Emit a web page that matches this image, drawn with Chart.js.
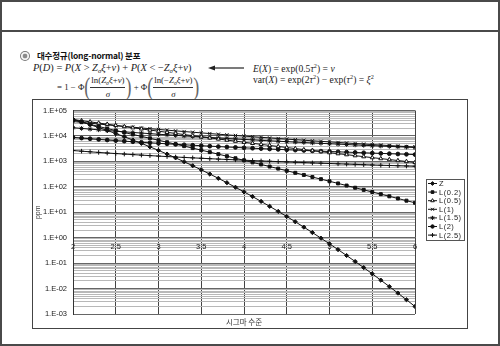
<!DOCTYPE html>
<html>
<head>
<meta charset="utf-8">
<script src="https://cdn.jsdelivr.net/npm/chart.js@4.4.1/dist/chart.umd.min.js"></script>
<style>
  html, body { margin: 0; padding: 0; background: #fff; }
  body { width: 500px; height: 346px; position: relative; overflow: hidden; font-family: "Liberation Sans", Arial, sans-serif; }
  #frame { position: absolute; left: 0; top: 0; width: 496px; height: 342px; border: 2px solid #4a4a4a; }
  #band { position: absolute; left: 0; top: 30px; width: 500px; height: 2px; background: #4a4a4a; }
  #bullet { position: absolute; left: 20px; top: 51px; width: 10px; height: 10px; border-radius: 50%;
            background: radial-gradient(circle, #8a8a8a 0 28%, #f2f2f2 38% 52%, #7a7a7a 64% 100%); }
  #head { position: absolute; left: 37px; top: 49px; font: bold 8.5px "Noto Sans CJK KR", sans-serif; color: #111; letter-spacing: -0.2px; }
  .m { position: absolute; font-family: "Liberation Serif", "Times New Roman", serif; font-style: italic; color: #222; white-space: nowrap; }
  .m sub { font-size: 65%; vertical-align: -2px; }
  .m sup { font-size: 65%; vertical-align: 4px; }
  .r { font-style: normal; }
  #f1 { left: 33px; top: 62px; font-size: 10.4px; letter-spacing: 0; }
  #f2 { left: 57px; top: 74px; height: 26px; font-size: 8.8px; display: flex; align-items: center; }
  .bp { font-style: normal; font-size: 18px; display: inline-block; transform: scaleY(1.4); color: #666; margin: 0; }
  .fr { display: inline-flex; flex-direction: column; align-items: center; }
  .nu { border-bottom: 1px solid #333; padding: 0 1px 1px; }
  .de { padding-top: 1px; }
  #f3 { left: 253px; top: 62px; font-size: 9.6px; }
  #f4 { left: 253px; top: 73px; font-size: 9.6px; }
  #arrow { position: absolute; left: 208px; top: 64px; }
  #box { position: absolute; left: 32px; top: 99px; width: 434px; height: 228px; border: 1px solid #444; background: #fff; }
  #box canvas { display: block; }
</style>
</head>
<body>
<div id="frame"></div>
<div id="band"></div>
<div id="bullet"></div>
<div id="head">대수정규(long-normal) 분포</div>
<div id="f1" class="m">P<span class="r">(</span>D<span class="r">) = </span>P<span class="r">(</span>X<span class="r"> &gt; </span>Z<sub>σ</sub>ξ<span class="r">+</span>ν<span class="r">) + </span>P<span class="r">(</span>X<span class="r"> &lt; −</span>Z<sub>σ</sub>ξ<span class="r">+</span>ν<span class="r">)</span></div>
<div id="f2" class="m">
  <span class="r">= 1 − Φ</span><span class="bp">(</span><span class="fr"><span class="nu"><span class="r">ln(</span>Z<sub>σ</sub>ξ<span class="r">+</span>ν<span class="r">)</span></span><span class="de">σ</span></span><span class="bp">)</span>
  <span class="r">&nbsp;+ Φ</span><span class="bp">(</span><span class="fr"><span class="nu"><span class="r">ln(−</span>Z<sub>σ</sub>ξ<span class="r">+</span>ν<span class="r">)</span></span><span class="de">σ</span></span><span class="bp">)</span>
</div>
<svg id="arrow" width="38" height="8"><line x1="4" y1="4" x2="36" y2="4" stroke="#222" stroke-width="1.2"/><path d="M0,4 L7,1.5 L7,6.5 Z" fill="#222"/></svg>
<div id="f3" class="m">E<span class="r">(</span>X<span class="r">) = exp(0.5</span>τ<sup class="r">2</sup><span class="r">) = </span>ν</div>
<div id="f4" class="m"><span class="r">var(</span>X<span class="r">) = exp(2</span>τ<sup class="r">2</sup><span class="r">) − exp(</span>τ<sup class="r">2</sup><span class="r">) = </span>ξ<sup class="r">2</sup></div>
<div id="box"><canvas id="chart" width="434" height="228"></canvas></div>

<script>
// sigma level (x) and defect rate in ppm (y) for each curve
const sigmaLevels = [2.0, 2.1, 2.2, 2.3, 2.4, 2.5, 2.6, 2.7, 2.8, 2.9,
  3.0, 3.1, 3.2, 3.3, 3.4, 3.5, 3.6, 3.7, 3.8, 3.9,
  4.0, 4.1, 4.2, 4.3, 4.4, 4.5, 4.6, 4.7, 4.8, 4.9,
  5.0, 5.1, 5.2, 5.3, 5.4, 5.5, 5.6, 5.7, 5.8, 5.9, 6.0];

const zPpm = [45500, 35720, 27800, 21440, 16400, 12420, 9322, 6934, 5110, 3732,
  2700, 1935, 1374, 967, 674, 465, 318, 216, 145, 96.2,
  63.3, 41.3, 26.7, 17.1, 10.8, 6.80, 4.22, 2.60, 1.59, 0.958,
  0.573, 0.340, 0.199, 0.116, 0.0666, 0.0380, 0.0214, 0.0120, 0.00663, 0.00364, 0.00197];

const l02Ppm = [42600, 34740, 28510, 23570, 19550, 16320, 13660, 11450, 9616, 8078,
  6774, 5676, 4754, 3972, 3319, 2767, 2306, 1921, 1596, 1327,
  1101, 913, 757, 627, 519, 429, 355, 293, 242, 200,
  165, 136, 112, 92.1, 75.9, 62.5, 51.4, 42.3, 34.8, 28.6, 23.5];

const l05Ppm = [44460, 39850, 35790, 32110, 28880, 25940, 23340, 21000, 18910, 17040,
  15370, 13880, 12520, 11310, 10220, 9244, 8374, 7576, 6865, 6230,
  5649, 5126, 4660, 4231, 3847, 3503, 3187, 2903, 2647, 2414,
  2202, 2011, 1837, 1678, 1534, 1404, 1285, 1177, 1078, 989, 907];

const l1Ppm = [36950, 34180, 31640, 29370, 27280, 25370, 23640, 22060, 20590, 19260,
  18040, 16900, 15850, 14890, 14010, 13180, 12410, 11690, 11040, 10430,
  9851, 9318, 8823, 8361, 7925, 7515, 7130, 6774, 6442, 6129,
  5829, 5548, 5284, 5038, 4806, 4587, 4377, 4180, 3994, 3820, 3656];

const l15Ppm = [21130, 19750, 18510, 17380, 16330, 15390, 14520, 13730, 12980, 12300,
  11660, 11080, 10540, 10030, 9557, 9117, 8709, 8326, 7962, 7618,
  7297, 6996, 6713, 6448, 6197, 5955, 5726, 5511, 5309, 5117,
  4935, 4763, 4597, 4438, 4287, 4144, 4008, 3878, 3755, 3637, 3524];

const l2Ppm = [8768, 8246, 7760, 7322, 6925, 6564, 6232, 5920, 5632, 5369,
  5125, 4899, 4690, 4490, 4304, 4129, 3967, 3815, 3673, 3539,
  3411, 3289, 3174, 3065, 2963, 2866, 2774, 2687, 2604, 2525,
  2448, 2375, 2305, 2239, 2176, 2116, 2058, 2003, 1950, 1900, 1851];

const l25Ppm = [2669, 2518, 2377, 2250, 2135, 2030, 1934, 1845, 1762, 1685,
  1613, 1548, 1486, 1429, 1375, 1324, 1276, 1231, 1189, 1149,
  1111, 1075, 1041, 1010, 980, 951, 923, 896, 871, 847,
  824, 802, 781, 761, 742, 724, 706, 690, 673, 657, 642];

const seriesNames = ['Z', 'L(0.2)', 'L(0.5)', 'L(1)', 'L(1.5)', 'L(2)', 'L(2.5)'];

const xTickValues = [2, 2.5, 3, 3.5, 4, 4.5, 5, 5.5, 6];
const xTickLabels = ['2', '2.5', '3', '3.5', '4', '4.5', '5', '5.5', '6'];
const yTickValues = [0.001, 0.01, 0.1, 1, 10, 100, 1000, 10000, 100000];
const yTickLabels = ['1.E-03', '1.E-02', '1.E-01', '1.E+00', '1.E+01', '1.E+02', '1.E+03', '1.E+04', '1.E+05'];

// marker look per curve (black & white print style)
const markers = [
  { style: 'rectRot', r: 2.1, fill: '#111' },
  { style: 'rect', r: 2.1, fill: '#111' },
  { style: 'triangle', r: 2.3, fill: '#fff' },
  { style: 'crossRot', r: 2.3, fill: '#111' },
  { style: 'star', r: 2.3, fill: '#111' },
  { style: 'circle', r: 1.9, fill: '#111' },
  { style: 'cross', r: 2.3, fill: '#111' }
];

const allSeries = [zPpm, l02Ppm, l05Ppm, l1Ppm, l15Ppm, l2Ppm, l25Ppm];

const datasets = allSeries.map((vals, k) => ({
  label: seriesNames[k],
  data: sigmaLevels.map((s, i) => ({ x: s, y: vals[i] })),
  borderColor: '#111',
  borderWidth: 1,
  backgroundColor: markers[k].fill,
  pointStyle: markers[k].style,
  pointRadius: markers[k].r,
  pointBorderWidth: 1,
  pointBorderColor: '#111',
  pointBackgroundColor: markers[k].fill,
  tension: 0
}));

// boxed legend with line + marker samples
const boxedLegend = {
  id: 'boxedLegend',
  afterDraw(chart) {
    const ctx = chart.ctx;
    const a = chart.chartArea;
    const x0 = a.right + 11, y0 = 79, w = 38, h = 61;
    ctx.save();
    ctx.strokeStyle = '#555';
    ctx.lineWidth = 1;
    ctx.strokeRect(x0 + 0.5, y0 + 0.5, w, h);
    ctx.font = '7.5px "Liberation Sans", Arial, sans-serif';
    ctx.textBaseline = 'middle';
    if ('letterSpacing' in ctx) ctx.letterSpacing = '0.5px';
    const drawPoint = Chart.helpers && Chart.helpers.drawPoint;
    seriesNames.forEach((name, i) => {
      const y = y0 + 4.5 + i * 8.6;
      ctx.strokeStyle = '#111';
      ctx.beginPath();
      ctx.moveTo(x0 + 2, y);
      ctx.lineTo(x0 + 11, y);
      ctx.stroke();
      ctx.fillStyle = markers[i].fill;
      if (drawPoint) {
        drawPoint(ctx, { pointStyle: markers[i].style, radius: markers[i].r * 0.9, borderWidth: 1, rotation: 0 }, x0 + 6.5, y);
      }
      ctx.fillStyle = '#222';
      ctx.fillText(name, x0 + 13, y + 0.5);
    });
    ctx.restore();
  }
};

Chart.defaults.font.family = '"Liberation Sans", Arial, sans-serif';
Chart.defaults.color = '#222';

new Chart(document.getElementById('chart'), {
  type: 'line',
  data: { datasets },
  options: {
    responsive: false,
    animation: false,
    events: [],
    layout: { padding: { left: 0, right: 52, top: 5, bottom: 0 } },
    plugins: {
      legend: { display: false },
      tooltip: { enabled: false },
      title: {
        display: true,
        position: 'bottom',
        fullSize: false,
        text: '시그마 수준',
        font: { size: 7.5, family: '"Noto Sans CJK KR", sans-serif', weight: 'normal' },
        color: '#333',
        padding: { top: 4, bottom: 1 }
      }
    },
    scales: {
      x: {
        type: 'linear',
        position: { y: 1 },
        min: 2,
        max: 6,
        afterBuildTicks: (scale) => { scale.ticks = xTickValues.map(v => ({ value: v })); },
        ticks: {
          autoSkip: false,
          maxRotation: 0,
          padding: 5,
          font: { size: 7.5 },
          callback: (v) => { const i = xTickValues.indexOf(v); return i < 0 ? '' : xTickLabels[i]; }
        },
        grid: { color: '#444', lineWidth: 1, drawTicks: false },
        border: { display: true, color: '#666' }
      },
      y: {
        type: 'logarithmic',
        min: 0.001,
        max: 100000,
        afterBuildTicks: (scale) => {
          const t = [];
          yTickValues.forEach((d, i) => {
            t.push({ value: d, major: true });
            if (i < yTickValues.length - 1) {
              for (let m = 2; m <= 9; m++) t.push({ value: m * d, major: false });
            }
          });
          scale.ticks = t;
        },
        afterFit: (scale) => { scale.width = 40; },
        ticks: {
          autoSkip: false,
          padding: 6,
          font: { size: 7.5 },
          callback: (v) => { const i = yTickValues.indexOf(v); return i < 0 ? '' : yTickLabels[i]; }
        },
        grid: {
          drawTicks: false,
          lineWidth: 1,
          color: (c) => (c.tick && c.tick.major ? '#666' : '#b8b8b8')
        },
        border: { color: '#333' },
        title: { display: true, text: 'ppm', font: { size: 7 }, color: '#333', padding: 1 }
      }
    }
  },
  plugins: [boxedLegend]
});
</script>
</body>
</html>
